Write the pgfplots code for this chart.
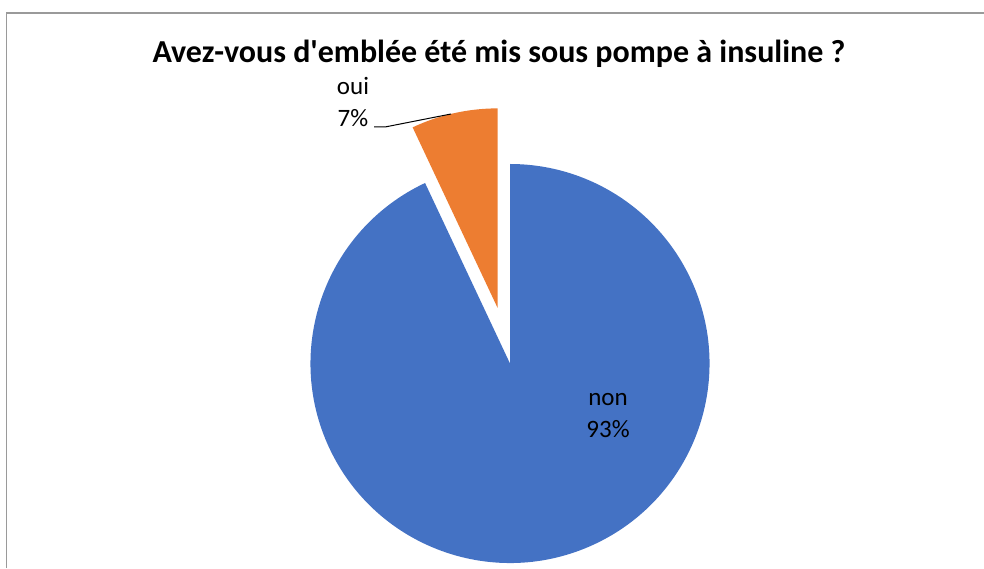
\documentclass[border=0pt]{standalone}
\usepackage{pgfplots}
\pgfplotsset{compat=1.18}
\usepackage{pgfplotstable}
\usepackage{fontspec}
\setmainfont{Carlito}
\definecolor{pieblue}{HTML}{4472C4}
\definecolor{pieorange}{HTML}{ED7D31}
\definecolor{framegray}{HTML}{9A9A9A}
\pgfplotstableread{
label value
non 93
oui 7
}\piedata
\begin{document}
\begin{tikzpicture}
\begin{axis}[
  name=ax,
  width=984pt, height=568pt, scale only axis,
  xmin=0, xmax=984, ymin=0, ymax=568,
  hide axis, clip=false,
  /pgf/number format/assume math mode=true,
]
\pgfplotstablegetelem{0}{value}\of\piedata \let\vnon\pgfplotsretval
\pgfplotstablegetelem{1}{value}\of\piedata \let\voui\pgfplotsretval
\pgfmathsetmacro{\aend}{90+3.6*\voui}
\pgfmathsetmacro{\amid}{90+1.8*\voui}
% frame
\draw[framegray, line width=1.5pt] (axis cs:6.5,0) -- (axis cs:6.5,555) -- (axis cs:984,555);
% non slice
\fill[pieblue] (axis cs:510,204.5) -- ++(\aend:199.5pt) arc[start angle=\aend, end angle=450, radius=199.5pt] -- cycle;
% oui slice (exploded)
\fill[pieorange] (axis cs:510,204.5) ++(\amid:57pt) -- ++(90:199.5pt) arc[start angle=90, end angle=\aend, radius=199.5pt] -- cycle;
% title
\node[anchor=base, font=\fontsize{32}{38}\selectfont\bfseries] at (axis cs:499,505) {Avez-vous d\textquotesingle emblée été mis sous pompe à insuline ?};
% labels
\node[anchor=base, font=\fontsize{25}{30}\selectfont] at (axis cs:608,163) {non};
\node[anchor=base, font=\fontsize{25}{30}\selectfont] at (axis cs:608,131) {\pgfmathprintnumber{\vnon}\%};
\node[anchor=base, font=\fontsize{25}{30}\selectfont] at (axis cs:353,473) {oui};
\node[anchor=base, font=\fontsize{25}{30}\selectfont] at (axis cs:353,441) {\pgfmathprintnumber{\voui}\%};
\draw[black, line width=1pt] (axis cs:374,441) -- (axis cs:385,441) -- (axis cs:451,454);
\end{axis}
\pgfresetboundingbox
\path[use as bounding box] (ax.south west) rectangle (ax.north east);
\end{tikzpicture}
\end{document}
